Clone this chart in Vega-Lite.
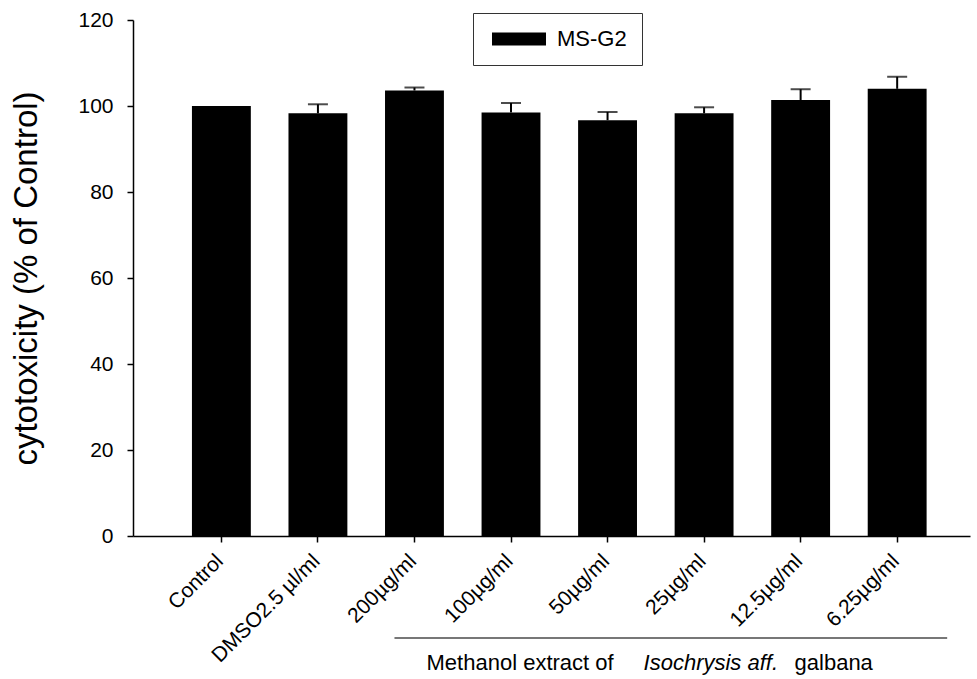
{
  "$schema": "https://vega.github.io/schema/vega-lite/v6.json",
  "width": 837,
  "height": 516,
  "autosize": {"type": "none"},
  "padding": {"left": 133, "top": 20, "right": 7, "bottom": 143},
  "config": {
    "view": {"stroke": null},
    "font": "Liberation Sans",
    "axis": {
      "domainColor": "black",
      "domainWidth": 1.5,
      "tickColor": "black",
      "tickWidth": 1.5,
      "labelColor": "black",
      "titleColor": "black",
      "grid": false,
      "labelFont": "Liberation Sans",
      "titleFont": "Liberation Sans"
    }
  },
  "data": {
    "values": [
      {"group": "Control", "value": 100.0, "upper": null},
      {"group": "DMSO2.5 µl/ml", "value": 98.3, "upper": 100.4},
      {"group": "200µg/ml", "value": 103.6, "upper": 104.3},
      {"group": "100µg/ml", "value": 98.5, "upper": 100.7},
      {"group": "50µg/ml", "value": 96.7, "upper": 98.6},
      {"group": "25µg/ml", "value": 98.3, "upper": 99.7},
      {"group": "12.5µg/ml", "value": 101.4, "upper": 103.9},
      {"group": "6.25µg/ml", "value": 104.0, "upper": 106.8}
    ]
  },
  "layer": [
    {
      "mark": {"type": "bar", "color": "black"},
      "encoding": {
        "x": {
          "field": "group",
          "type": "nominal",
          "scale": {
            "domain": ["Control", "DMSO2.5 µl/ml", "200µg/ml", "100µg/ml", "50µg/ml", "25µg/ml", "12.5µg/ml", "6.25µg/ml"],
            "paddingInner": 0.39,
            "paddingOuter": 0.53,
            "align": 0.576
          },
          "axis": {
            "title": null,
            "labelAngle": -45,
            "labelFontSize": 21,
            "tickSize": 6,
            "labelPadding": 8,
            "labelOffset": -9
          }
        },
        "y": {
          "field": "value",
          "type": "quantitative",
          "scale": {"domain": [0, 120], "nice": false},
          "axis": {
            "title": "cytotoxicity (% of Control)",
            "titleFontSize": 33,
            "titleFontWeight": "normal",
            "titlePadding": 34,
            "values": [0, 20, 40, 60, 80, 100, 120],
            "tickSize": 6,
            "labelPadding": 14,
            "labelFontSize": 21
          }
        },
        "color": {
          "datum": "MS-G2",
          "type": "nominal",
          "scale": {"range": ["black"]},
          "legend": {
            "title": null,
            "orient": "none",
            "legendX": 340,
            "legendY": -7,
            "symbolType": "M-3.6,-0.87H3.6V0.87H-3.6Z",
            "symbolSize": 225,
            "symbolOffset": 20,
            "symbolStrokeWidth": 0,
            "labelOffset": 27,
            "labelFontSize": 22,
            "labelColor": "black",
            "labelExpr": "datum.label + '\u00a0\u00a0'",
            "padding": 15,
            "strokeColor": "#333",
            "fillColor": "white"
          }
        }
      }
    },
    {
      "transform": [{"filter": "datum.upper != null"}],
      "mark": {"type": "rule", "color": "black", "strokeWidth": 2},
      "encoding": {
        "x": {"field": "group", "type": "nominal"},
        "y": {"field": "value", "type": "quantitative"},
        "y2": {"field": "upper"}
      }
    },
    {
      "transform": [{"filter": "datum.upper != null"}],
      "mark": {"type": "tick", "color": "black", "thickness": 2, "size": 20},
      "encoding": {
        "x": {"field": "group", "type": "nominal"},
        "y": {"field": "upper", "type": "quantitative"}
      }
    },
    {
      "data": {"values": [{"note": "bracket"}]},
      "mark": {"type": "rule", "color": "#777", "strokeWidth": 2, "xOffset": -20, "x2Offset": 50},
      "encoding": {
        "x": {"datum": "200µg/ml", "type": "nominal"},
        "x2": {"datum": "6.25µg/ml"},
        "y": {"datum": -23.7, "type": "quantitative"}
      }
    },
    {
      "data": {"values": [{"t": "Methanol extract of"}]},
      "mark": {"type": "text", "align": "left", "baseline": "alphabetic", "fontSize": 22, "fontWeight": "normal", "dx": -181, "dy": 134, "color": "black"},
      "encoding": {
        "x": {"datum": "50µg/ml", "type": "nominal"},
        "y": {"datum": 0, "type": "quantitative"},
        "text": {"field": "t"}
      }
    },
    {
      "data": {"values": [{"t": "Isochrysis aff."}]},
      "mark": {"type": "text", "align": "left", "baseline": "alphabetic", "fontSize": 22, "fontWeight": "normal", "fontStyle": "italic", "dx": 36, "dy": 134, "color": "black"},
      "encoding": {
        "x": {"datum": "50µg/ml", "type": "nominal"},
        "y": {"datum": 0, "type": "quantitative"},
        "text": {"field": "t"}
      }
    },
    {
      "data": {"values": [{"t": "galbana"}]},
      "mark": {"type": "text", "align": "left", "baseline": "alphabetic", "fontSize": 22, "fontWeight": "normal", "dx": 187, "dy": 134, "color": "black"},
      "encoding": {
        "x": {"datum": "50µg/ml", "type": "nominal"},
        "y": {"datum": 0, "type": "quantitative"},
        "text": {"field": "t"}
      }
    }
  ]
}
